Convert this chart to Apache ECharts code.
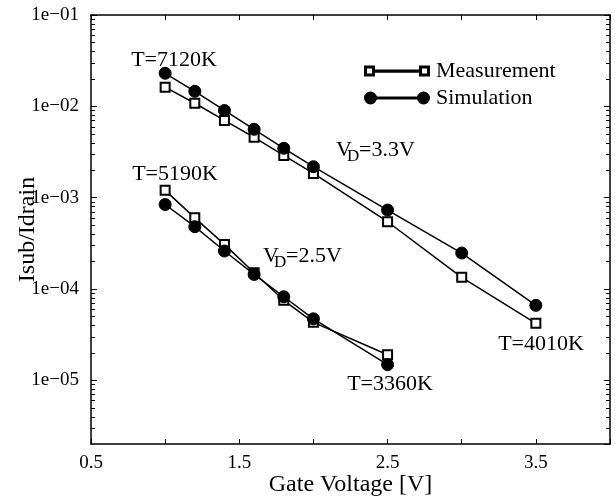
<!DOCTYPE html>
<html>
<head>
<meta charset="utf-8">
<script src="https://cdn.jsdelivr.net/npm/echarts@6/dist/echarts.min.js"></script>
<style>
  html, body { margin: 0; padding: 0; background: #fff; }
  #chart { width: 615px; height: 497px; }
</style>
</head>
<body>
<div id="chart"></div>
<script>
// gate voltage [V]
var gateV33 = [1.0, 1.2, 1.4, 1.6, 1.8, 2.0, 2.5, 3.0, 3.5];
var gateV25 = [1.0, 1.2, 1.4, 1.6, 1.8, 2.0, 2.5];
// Isub/Idrain, VD = 3.3V
var meas33 = [1.62e-2, 1.08e-2, 7.0e-3, 4.57e-3, 2.9e-3, 1.84e-3, 5.44e-4, 1.34e-4, 4.2e-5];
var sim33  = [2.3e-2, 1.46e-2, 9.0e-3, 5.6e-3, 3.47e-3, 2.18e-3, 7.3e-4, 2.47e-4, 6.6e-5];
// Isub/Idrain, VD = 2.5V
var meas25 = [1.2e-3, 6.0e-4, 3.07e-4, 1.5e-4, 7.5e-5, 4.3e-5, 1.9e-5];
var sim25  = [8.4e-4, 4.8e-4, 2.6e-4, 1.44e-4, 8.2e-5, 4.7e-5, 1.48e-5];

var xTickLabels = [0.5, 1.5, 2.5, 3.5];
var xMin = 0.5, xMax = 4;
var yMin = 2e-6, yMax = 1e-1;

var FONT = 'Liberation Serif';
var GRID = { left: 91, top: 15, right: 5, bottom: 53 };
var W = 615, H = 497;

function pairs(xs, ys) {
    var out = [];
    for (var i = 0; i < xs.length; i++) out.push([xs[i], ys[i]]);
    return out;
}

// minor ticks of the log axis: 2..9 x 10^k
var minorTicks = [];
for (var k = -6; k <= -2; k++) {
    for (var m = 2; m <= 9; m++) {
        var v = m * Math.pow(10, k);
        if (v > yMin && v < yMax) minorTicks.push(v);
    }
}

function expLabel(v) {
    var lg = Math.log10(v);
    var e = Math.round(lg);
    if (Math.abs(lg - e) > 1e-6) return '';
    var n = Math.abs(e);
    return '1e' + (e < 0 ? '\u2212' : '+') + (n < 10 ? '0' + n : n);
}

var chart = echarts.init(document.getElementById('chart'));

var xBase = {
    type: 'value', min: xMin, max: xMax, interval: 0.5,
    splitLine: { show: false },
    axisLine: { lineStyle: { color: '#000', width: 1.5 } },
    axisTick: { inside: true, length: 5, lineStyle: { color: '#000', width: 1 } }
};

function yMajor(pos) {
    return {
        type: 'log', logBase: 10, min: yMin, max: yMax, position: pos,
        splitLine: { show: false },
        axisLine: { show: true, lineStyle: { color: '#000', width: 1.5 } },
        axisTick: { inside: true, length: 6, lineStyle: { color: '#000', width: 1 } },
        axisLabel: {
            show: pos === 'left', fontFamily: FONT, fontSize: 19, color: '#000', margin: 12,
            showMinLabel: false, formatter: expLabel
        },
        name: pos === 'left' ? 'Isub/Idrain' : '',
        nameLocation: 'middle', nameGap: 51, nameMoveOverlap: false,
        nameTextStyle: { fontFamily: FONT, fontSize: 24, color: '#000' }
    };
}

var lineStyle = { color: '#000', width: 1.5 };
function series(name, data, isSim) {
    return {
        name: name, type: 'line', data: data,
        xAxisIndex: 0, yAxisIndex: 0,
        symbol: isSim ? 'circle' : 'emptyRect',
        symbolSize: isSim ? 12 : 9,
        itemStyle: { color: '#000', borderColor: '#000', borderWidth: 1 },
        lineStyle: lineStyle,
        z: isSim ? 3 : 2,
        animation: false
    };
}

var iconMeas = 'path://M0 1h9v9h-9zM1 2v7h7v-7zM9 5h46v1.2h-46zM55 1h9v9h-9zM56 2v7h7v-7z';
var iconSim = 'path://M0 5.5a5.5 5.5 0 1 0 11 0a5.5 5.5 0 1 0 -11 0zM5 4.9h54v1.2h-54zM53 5.5a5.5 5.5 0 1 0 11 0a5.5 5.5 0 1 0 -11 0z';

function vdLabel(left, top, val) {
    return {
        type: 'group', left: left, top: top,
        children: [
            { type: 'text', x: 0, y: 0, style: { text: 'V', font: '22px ' + FONT, fill: '#000' } },
            { type: 'text', x: 11, y: 9, style: { text: 'D', font: '17px ' + FONT, fill: '#000' } },
            { type: 'text', x: 23, y: 0, style: { text: '=' + val, font: '22px ' + FONT, fill: '#000' } }
        ]
    };
}
function tLabel(cx, cy, txt) {
    return {
        type: 'text', x: cx, y: cy,
        style: { text: txt, font: '22px ' + FONT, fill: '#000', align: 'center', verticalAlign: 'middle' }
    };
}

// minor log ticks on both y edges, in log10 scale of the grid
var gTop = GRID.top, gBot = H - GRID.bottom, gL = GRID.left, gR = W - GRID.right;
var lgMin = Math.log10(yMin), lgMax = Math.log10(yMax);
var tickMarks = [];
minorTicks.forEach(function (t) {
    var py = gBot - (Math.log10(t) - lgMin) / (lgMax - lgMin) * (gBot - gTop);
    py = Math.round(py) + 0.5;
    tickMarks.push({ type: 'line', z: 100, shape: { x1: gL, y1: py, x2: gL + 4, y2: py },
        style: { stroke: '#000', lineWidth: 1 } });
    tickMarks.push({ type: 'line', z: 100, shape: { x1: gR - 4, y1: py, x2: gR, y2: py },
        style: { stroke: '#000', lineWidth: 1 } });
});

var labels = [
    tLabel(174, 60, 'T=7120K'),
    tLabel(175, 174, 'T=5190K'),
    tLabel(541, 344, 'T=4010K'),
    tLabel(390, 384, 'T=3360K'),
    vdLabel(336, 139, '3.3V'),
    vdLabel(263, 245, '2.5V')
];

chart.setOption({
    backgroundColor: '#fff',
    animation: false,
    grid: { left: GRID.left, top: GRID.top, right: GRID.right, bottom: GRID.bottom,
        containLabel: false, outerBoundsMode: 'none' },
    xAxis: [
        Object.assign({}, xBase, {
            position: 'bottom',
            name: 'Gate Voltage [V]', nameLocation: 'middle', nameGap: 29, nameMoveOverlap: false,
            nameTextStyle: { fontFamily: FONT, fontSize: 24, color: '#000' },
            axisLabel: {
                fontFamily: FONT, fontSize: 19, color: '#000', margin: 10,
                formatter: function (v) {
                    return xTickLabels.indexOf(Math.round(v * 10) / 10) >= 0 ? v.toFixed(1) : '';
                }
            }
        }),
        Object.assign({}, xBase, { position: 'top', axisLabel: { show: false } })
    ],
    yAxis: [yMajor('left'), yMajor('right')],
    legend: {
        orient: 'vertical', left: 359, top: 55, itemWidth: 64, itemHeight: 11, itemGap: 5,
        textStyle: { fontFamily: FONT, fontSize: 22, color: '#000', padding: [0, 0, 0, 2] },
        data: [
            { name: 'Measurement', icon: iconMeas },
            { name: 'Simulation', icon: iconSim }
        ]
    },
    series: [
        series('Measurement', pairs(gateV33, meas33), false),
        series('Simulation', pairs(gateV33, sim33), true),
        series('Measurement', pairs(gateV25, meas25), false),
        series('Simulation', pairs(gateV25, sim25), true)
    ],
    graphic: labels.concat(tickMarks)
});
</script>
</body>
</html>
